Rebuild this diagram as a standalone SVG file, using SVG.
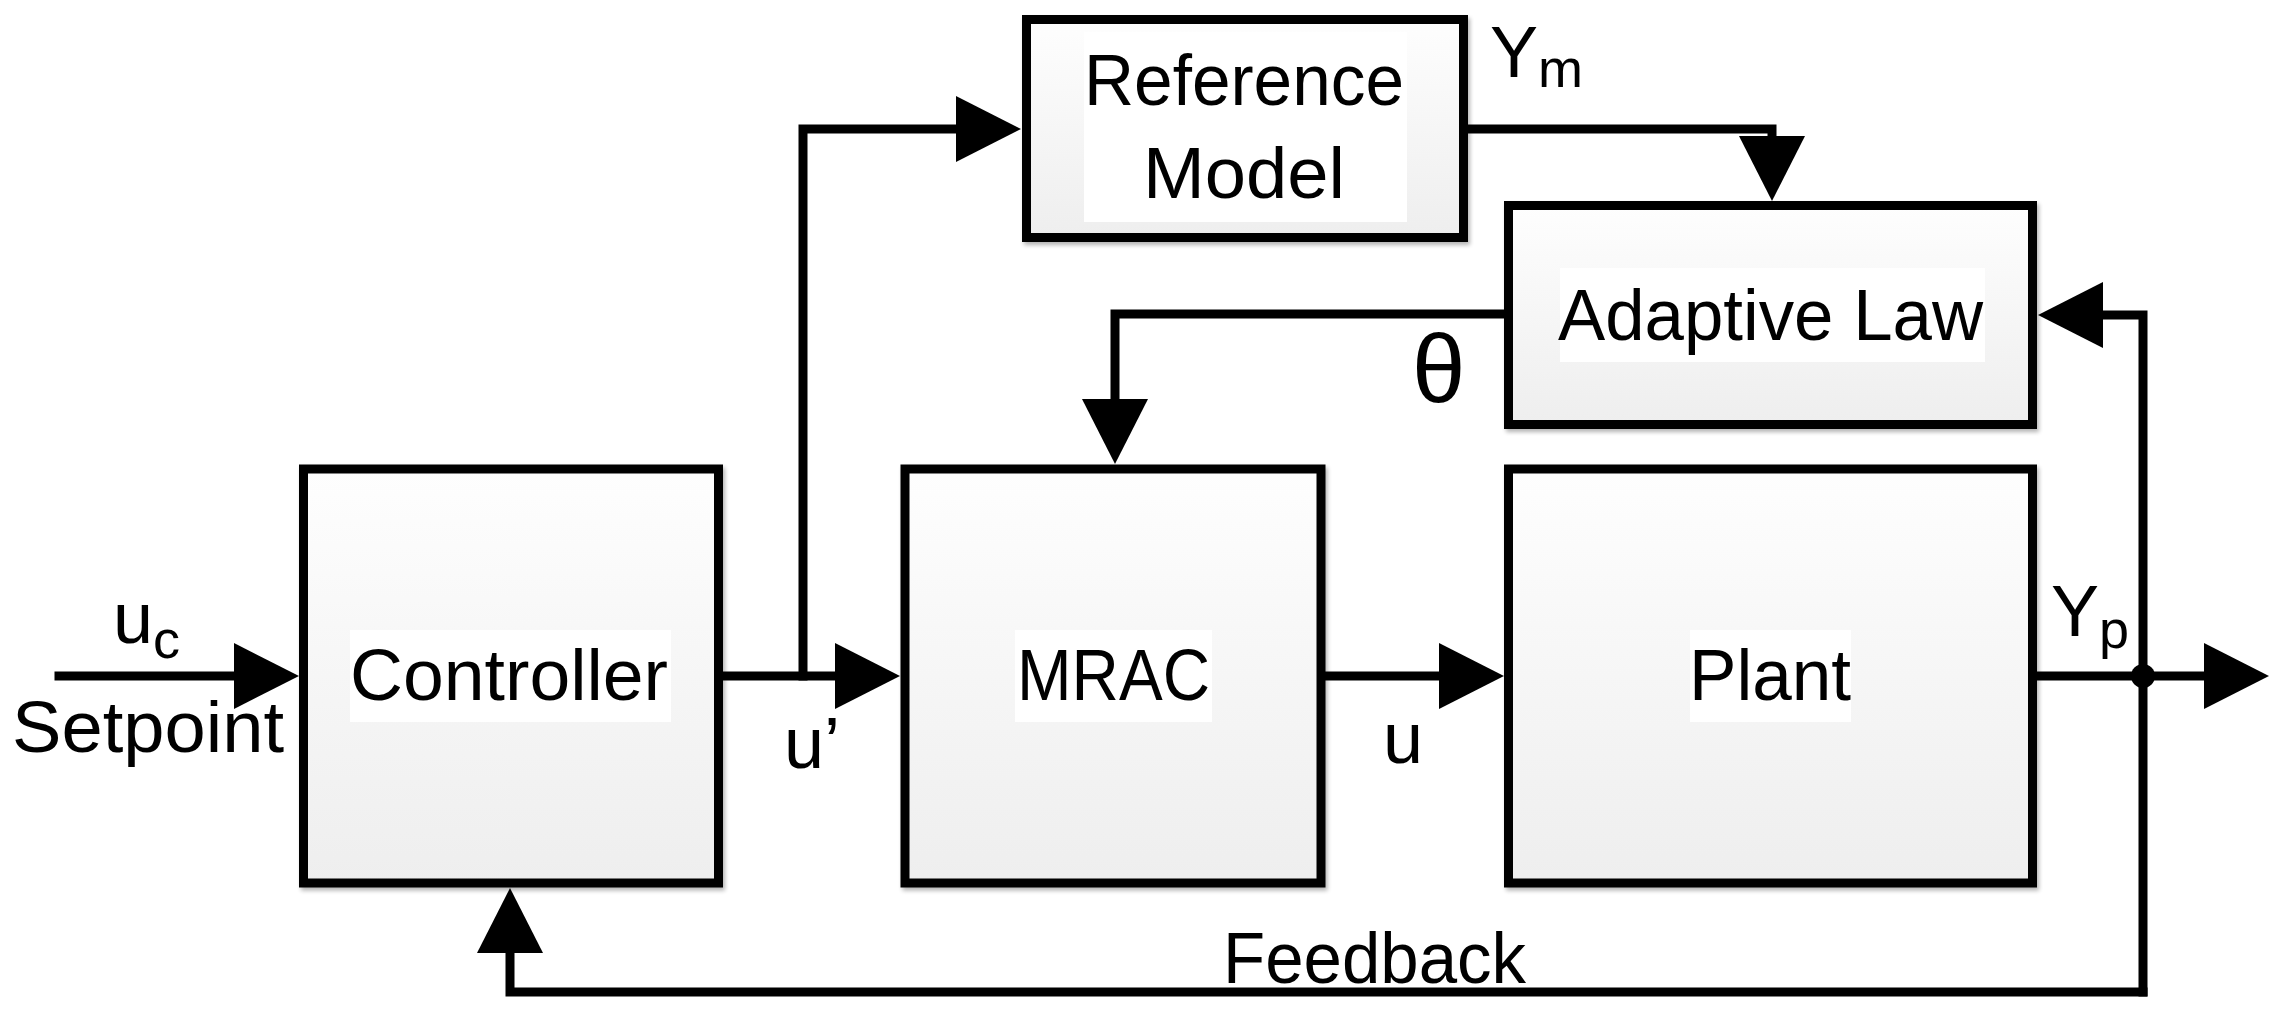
<svg xmlns="http://www.w3.org/2000/svg" width="2294" height="1010" viewBox="0 0 2294 1010">
  <style>
    .box { fill: url(#boxfill); stroke: #000; stroke-width: 9; filter: url(#shadow); }
    .tbg { fill: #ffffff; stroke: none; }
    .lbl { font-family: "Liberation Sans", Arial, sans-serif; font-size: 72px; fill: #000; }
    .sub { font-size: 54px; }
    .theta { font-size: 96px; }
    .wire { fill: none; stroke: #000; stroke-width: 9; stroke-linecap: square; stroke-linejoin: miter; }
    .arr { marker-end: url(#ah); }
  </style>
  <defs>
    <linearGradient id="boxfill" x1="0" y1="0" x2="0" y2="1">
      <stop offset="0" stop-color="#fefefe"/>
      <stop offset="1" stop-color="#eeeeee"/>
    </linearGradient>
    <filter id="shadow" x="-5%" y="-5%" width="110%" height="110%">
      <feGaussianBlur in="SourceAlpha" stdDeviation="2"/>
      <feOffset dx="2" dy="3" result="b"/>
      <feComponentTransfer><feFuncA type="linear" slope="0.3"/></feComponentTransfer>
      <feMerge><feMergeNode/><feMergeNode in="SourceGraphic"/></feMerge>
    </filter>
    <marker id="ah" markerUnits="userSpaceOnUse" markerWidth="70" markerHeight="70" refX="1" refY="33" orient="auto" overflow="visible">
      <path d="M0,0 L65,33 L0,66 Z" fill="#000"/>
    </marker>
  </defs>
  <rect width="2294" height="1010" fill="#ffffff"/>

  <g id="connectors">
    <path class="wire arr" d="M59,676 H235"/>
    <path class="wire arr" d="M722,676 H836"/>
    <path class="wire arr" d="M803,676 V129 H957"/>
    <path class="wire arr" d="M1468,129 H1772 V137"/>
    <path class="wire arr" d="M1504,314 H1115 V400"/>
    <path class="wire arr" d="M1325,676 H1440"/>
    <path class="wire arr" d="M2037,676 H2205"/>
    <path class="wire arr" d="M2143,992 V315 H2102"/>
    <path class="wire arr" d="M2143,992 H510 V952"/>
    <circle cx="2143" cy="676" r="12" fill="#000"/>
  </g>

  <g id="controller">
    <rect class="box" x="303.5" y="469" width="415" height="414"/>
    <rect class="tbg" x="350" y="630" width="321" height="92"/>
    <text class="lbl" x="350" y="700" textLength="318" lengthAdjust="spacingAndGlyphs">Controller</text>
  </g>

  <g id="mrac">
    <rect class="box" x="905" y="469" width="416" height="414"/>
    <rect class="tbg" x="1015" y="630" width="197" height="92"/>
    <text class="lbl" x="1017" y="700" textLength="193" lengthAdjust="spacingAndGlyphs">MRAC</text>
  </g>

  <g id="plant">
    <rect class="box" x="1508.5" y="469" width="524" height="414"/>
    <rect class="tbg" x="1690" y="630" width="161" height="92"/>
    <text class="lbl" x="1689" y="700" textLength="162" lengthAdjust="spacingAndGlyphs">Plant</text>
  </g>

  <g id="adaptive-law">
    <rect class="box" x="1508.5" y="205.5" width="524" height="219"/>
    <rect class="tbg" x="1560" y="268" width="425" height="94"/>
    <text class="lbl" x="1558" y="340" textLength="425" lengthAdjust="spacingAndGlyphs">Adaptive Law</text>
  </g>

  <g id="reference-model">
    <rect class="box" x="1026.5" y="19.5" width="437" height="218"/>
    <rect class="tbg" x="1084" y="32" width="323" height="190"/>
    <text class="lbl" x="1084" y="105" textLength="320" lengthAdjust="spacingAndGlyphs">Reference</text>
    <text class="lbl" x="1143" y="198" textLength="202" lengthAdjust="spacingAndGlyphs">Model</text>
  </g>

  <g id="labels">
    <text class="lbl" x="113" y="643">u<tspan class="sub" dy="15">c</tspan></text>
    <text class="lbl" x="12" y="752" textLength="272" lengthAdjust="spacingAndGlyphs">Setpoint</text>
    <text class="lbl" x="784" y="768">u’</text>
    <text class="lbl" x="1383" y="763">u</text>
    <text class="lbl" x="1490" y="77">Y<tspan class="sub" dy="10">m</tspan></text>
    <text class="lbl" x="2051" y="636">Y<tspan class="sub" dy="12">p</tspan></text>
    <text class="lbl theta" x="1412" y="402">θ</text>
    <text class="lbl" x="1223" y="983" textLength="303" lengthAdjust="spacingAndGlyphs">Feedback</text>
  </g>
</svg>
